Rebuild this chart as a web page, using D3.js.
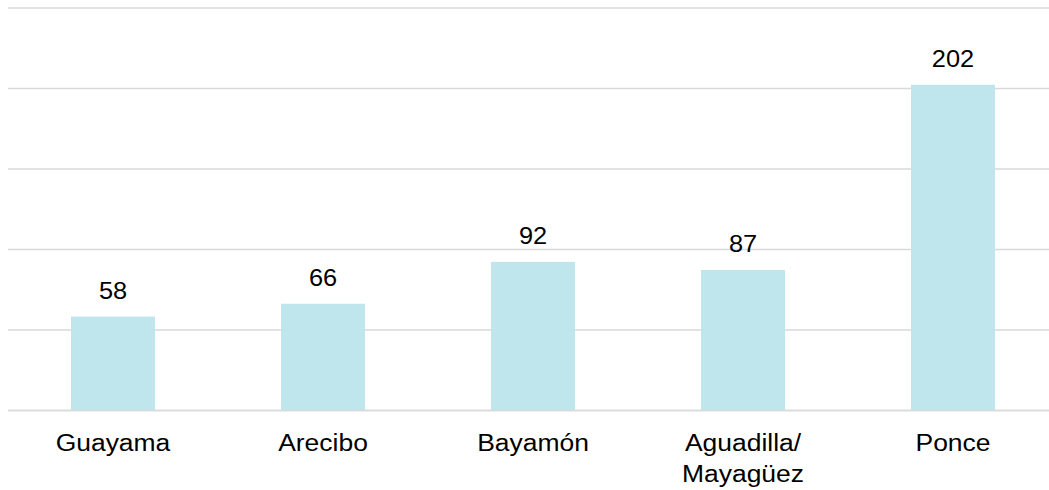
<!DOCTYPE html>
<html>
<head>
<meta charset="utf-8">
<script src="https://cdn.jsdelivr.net/npm/d3@7"></script>
<style>
  body { margin: 0; background: #fff; }
  text { font-family: "Liberation Sans", Arial, sans-serif; fill: #000; }
</style>
</head>
<body>
<div id="chart"></div>
<script>
const categories = ['Guayama', 'Arecibo', 'Bayamón', 'Aguadilla/\nMayagüez', 'Ponce'];
const values = [58, 66, 92, 87, 202];
const yTicks = [0, 50, 100, 150, 200, 250];

const data = categories.map((name, i) => ({ name, num: values[i] }));

let width = 1049, height = 490;
let margin = { top: 7.5, right: -9, bottom: 80, left: 8 };
let innerW = width - margin.left - margin.right,
    innerH = height - margin.top - margin.bottom;
// text in the reference is a little wider than it is tall
const stretch = 1.08;

/// SETUP scales
let x = d3.scaleBand()
  .domain(categories)
  .range([0, innerW])
  .paddingInner(0.6)
  .paddingOuter(0.3);

let y = d3.scaleLinear()
  .domain([0, 250])
  .range([innerH, 0]);

/// CREATE SVG
let svg = d3.select('#chart')
  .append('svg')
  .attr('width', width)
  .attr('height', height)
  .append('g')
  .attr('transform', `translate(${margin.left}, ${margin.top})`);

/// gridlines
svg.append('g')
  .call(d3.axisLeft(y).tickValues(yTicks).tickSize(-innerW).tickFormat(''))
  .call(g => g.select('.domain').remove())
  .call(g => g.selectAll('line').attr('stroke', '#d9d9d9').attr('stroke-width', 1.5));

/// bars
svg.selectAll('.bar')
  .data(data)
  .join('rect')
  .attr('class', 'bar')
  .attr('x', d => x(d.name))
  .attr('y', d => y(d.num))
  .attr('width', x.bandwidth())
  .attr('height', d => innerH - y(d.num))
  .attr('fill', '#bee6ec');

/// value labels
svg.selectAll('.val')
  .data(data)
  .join('text')
  .attr('class', 'val')
  .attr('transform', d => `translate(${x(d.name) + x.bandwidth() / 2},${y(d.num) - 17.5}) scale(${stretch},1)`)
  .attr('text-anchor', 'middle')
  .style('font-size', '23.5px')
  .text(d => d.num);

/// category axis
let xAxis = svg.append('g')
  .attr('transform', `translate(0,${innerH})`)
  .call(d3.axisBottom(x).tickSize(0).tickFormat(''));
xAxis.select('.domain').attr('stroke', '#d9d9d9').attr('stroke-width', 1.5);

xAxis.selectAll('.tick').each(function(d) {
  let t = d3.select(this).append('text')
    .attr('transform', `scale(${stretch},1)`)
    .attr('text-anchor', 'middle')
    .style('font-size', '24.5px');
  d.split('\n').forEach((line, i) => {
    t.append('tspan').attr('x', 0).attr('y', 41.5 + i * 30.5).text(line);
  });
});
</script>
</body>
</html>
